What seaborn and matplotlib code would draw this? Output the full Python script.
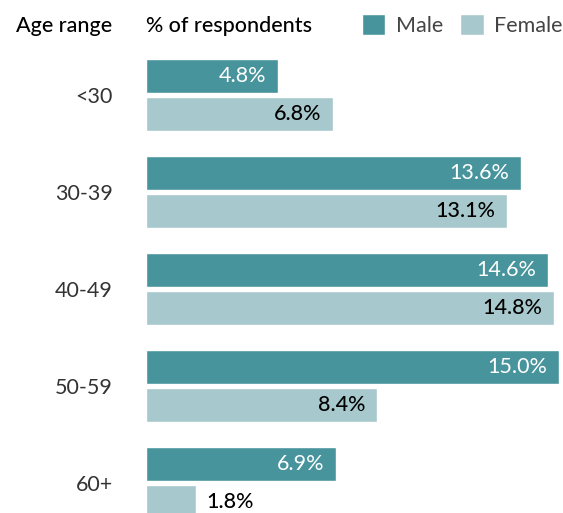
import matplotlib
matplotlib.use("Agg")
import matplotlib.pyplot as plt
import seaborn as sns
import pandas as pd

# Survey data: share of respondents by age range and sex
age_ranges = ["<30", "30-39", "40-49", "50-59", "60+"]
male_pct = [4.8, 13.6, 14.6, 15.0, 6.9]
female_pct = [6.8, 13.1, 14.8, 8.4, 1.8]
sexes = ["Male", "Female"]

MALE_COLOR = "#48949c"
FEMALE_COLOR = "#a7c8cc"
TEXT_COLOR = "#333333"

df = pd.DataFrame({
    "age": age_ranges * 2,
    "pct": male_pct + female_pct,
    "sex": [sexes[0]] * len(age_ranges) + [sexes[1]] * len(age_ranges),
})

sns.set_theme(style="white")
plt.rcParams["font.family"] = ["Lato", "DejaVu Sans"]

W, H, DPI = 563, 513, 100
fig = plt.figure(figsize=(W / DPI, H / DPI), dpi=DPI)

# axes occupy the area right of the age labels and below the header row
ax_left, ax_top = 146, 59
ax = fig.add_axes([ax_left / W, 0, (W - ax_left) / W, (H - ax_top) / H])

sns.barplot(
    data=df, y="age", x="pct", hue="sex", order=age_ranges, hue_order=sexes,
    palette=[MALE_COLOR, FEMALE_COLOR], saturation=1, orient="h",
    width=0.784, gap=0.105, ax=ax, legend=True,
)

# category spacing: 97 px per group, first group centred 36 px below axes top
ax.set_ylim(-0.371 + (H - ax_top) / 97, -0.371)
ax.set_xlim(0, (W - ax_left) / 27.55)

ax.set_xlabel("")
ax.set_ylabel("")
ax.set_xticks([])
for s in ax.spines.values():
    s.set_visible(False)
ax.tick_params(axis="y", length=0, pad=24, labelsize=15.5, labelcolor=TEXT_COLOR)

# value labels at the bar ends
for container, values, sex in zip(ax.containers, [male_pct, female_pct], sexes):
    for bar, v in zip(container, values):
        yc = bar.get_y() + bar.get_height() / 2
        label = f"{v:.1f}%"
        if v < 3:
            ax.annotate(label, (v, yc), xytext=(11, 0), textcoords="offset pixels",
                        ha="left", va="center", fontsize=15.5, color="black",
                        fontweight="medium")
        else:
            color = "white" if sex == "Male" else "black"
            weight = "normal" if sex == "Male" else "medium"
            ax.annotate(label, (v, yc), xytext=(-12, 0), textcoords="offset pixels",
                        ha="right", va="center", fontsize=15.5, color=color,
                        fontweight=weight)

# header row
base_y = 1 - 32 / H
fig.text(112 / W, base_y, "Age range", ha="right", va="baseline",
         fontsize=15.5, color="black", fontweight="medium")
fig.text(146 / W, base_y, "% of respondents", ha="left", va="baseline",
         fontsize=15.5, color="black", fontweight="medium")

handles, labels = ax.get_legend_handles_labels()
ax.get_legend().remove()
fig.legend(handles, labels, loc="center right", bbox_to_anchor=(1.0, 1 - 25 / H),
           ncol=2, frameon=False, fontsize=15.5, labelcolor="#444444",
           handlelength=1.08, handleheight=1.13, handletextpad=0.5,
           columnspacing=0.8, borderpad=0, borderaxespad=0)

fig.savefig("out.png", dpi=DPI)
